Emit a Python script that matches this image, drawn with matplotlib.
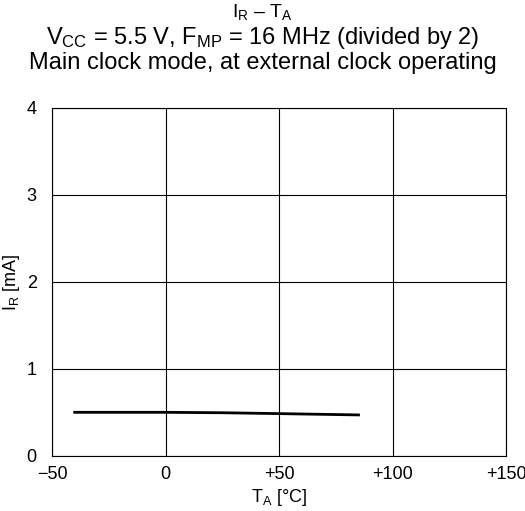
import numpy as np
import matplotlib
matplotlib.use("Agg")
import matplotlib.pyplot as plt

plt.rcParams['font.family'] = ['Liberation Sans', 'DejaVu Sans']
plt.rcParams['mathtext.fontset'] = 'custom'
plt.rcParams['mathtext.rm'] = 'Liberation Sans'

ta = [-40, 0, 25, 50, 85]
ir = [0.50, 0.50, 0.495, 0.485, 0.47]

xticks = [-50, 0, 50, 100, 150]
xlabels = ['\u221250', '0', '+50', '+100', '+150']
yticks = [0, 1, 2, 3, 4]

fig = plt.figure(figsize=(5.25, 5.11), dpi=100)
ax = fig.add_axes([0.099, 0.108, 0.865, 0.681])

ax.plot(ta, ir, color='black', lw=2)

ax.set_xlim(-50, 150)
ax.set_ylim(0, 4)
ax.set_xticks(xticks)
ax.set_xticklabels(xlabels)
ax.set_yticks(yticks)
ax.tick_params(length=0, labelsize=13)
ax.tick_params(axis='y', pad=11)
ax.tick_params(axis='x', pad=7)
ax.grid(True, color='black', lw=0.8)
for s in ax.spines.values():
    s.set_color('black')
    s.set_linewidth(0.8)

ax.set_xlabel(r'$\mathregular{T_A}$ [' + '\u00b0C]', fontsize=13, labelpad=3)
fig.text(0.021, 0.448, r'$\mathregular{I_R}$ [mA]', fontsize=13, rotation=90,
         ha='center', va='center')

fig.text(0.5, 0.976, r'$\mathregular{I_R}$ ' + '\u2013 ' + r'$\mathregular{T_A}$',
         ha='center', va='center', fontsize=14)
fig.text(0.5, 0.926, r'$\mathregular{V_{CC}}$ = 5.5 V, $\mathregular{F_{MP}}$ = 16 MHz (divided by 2)',
         ha='center', va='center', fontsize=17)
fig.text(0.5, 0.877, 'Main clock mode, at external clock operating', ha='center', va='center', fontsize=17)

fig.savefig('out.png', dpi=100)
